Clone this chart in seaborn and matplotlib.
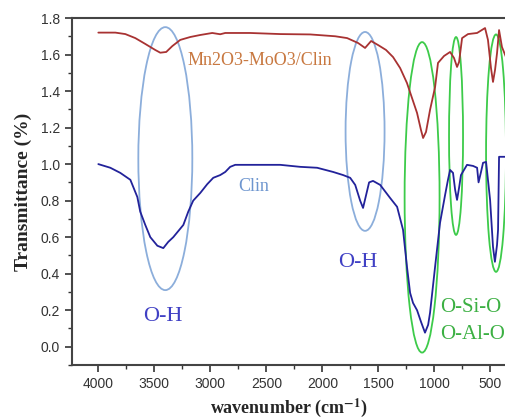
# FTIR spectra: Clin vs Mn2O3-MoO3/Clin
import numpy as np
import pandas as pd
import matplotlib
matplotlib.use("Agg")
import matplotlib.pyplot as plt
from matplotlib.patches import Ellipse
from matplotlib.ticker import MultipleLocator, FormatStrFormatter
import seaborn as sns

# Data (wavenumber cm-1, transmittance)
wn_mn = [4000, 3848, 3759, 3670, 3581, 3492, 3447, 3394, 3340, 3269, 3179, 3090, 2983,
         2912, 2867, 2645, 2376, 2109, 1886, 1779, 1681, 1619, 1565, 1503, 1432, 1369,
         1306, 1245, 1200, 1155, 1120, 1101, 1075, 1039, 994, 968, 914, 860, 825, 798,
         780, 753, 700, 619, 548, 522, 495, 477, 459, 441, 423, 397, 361]
tr_mn = [1.72, 1.72, 1.712, 1.69, 1.658, 1.625, 1.61, 1.614, 1.646, 1.68, 1.696, 1.707, 1.718,
         1.711, 1.718, 1.718, 1.712, 1.71, 1.70, 1.69, 1.663, 1.636, 1.674, 1.652, 1.625, 1.586,
         1.526, 1.444, 1.362, 1.28, 1.187, 1.143, 1.176, 1.297, 1.422, 1.554, 1.592, 1.614, 1.581, 1.532,
         1.559, 1.69, 1.712, 1.718, 1.745, 1.68, 1.526, 1.45, 1.515, 1.608, 1.734, 1.641, 1.586]

wn_clin = [4000, 3893, 3804, 3714, 3652, 3626, 3581, 3536, 3473, 3420, 3376, 3331, 3241,
           3197, 3153, 3090, 3028, 2974, 2912, 2867, 2823, 2778, 2645, 2376, 2198, 2047,
           1904, 1815, 1752, 1707, 1663, 1637, 1610, 1583, 1548, 1484, 1396, 1333, 1280,
           1245, 1217, 1191, 1155, 1120, 1084, 1056, 1039, 994, 950, 905, 879, 860, 834,
           815, 798, 780, 763, 709, 655, 619, 606, 584, 566, 539, 522, 503, 477, 460, 441,
           432, 423, 361]
tr_clin = [1.0, 0.98, 0.952, 0.914, 0.82, 0.74, 0.667, 0.60, 0.553, 0.54, 0.574, 0.60, 0.667,
           0.74, 0.80, 0.842, 0.89, 0.925, 0.94, 0.957, 0.985, 0.996, 0.996, 0.996, 0.985, 0.98,
           0.957, 0.94, 0.925, 0.886, 0.80, 0.76, 0.83, 0.90, 0.908, 0.886, 0.815, 0.766, 0.64,
           0.438, 0.295, 0.24, 0.20, 0.137, 0.077, 0.12, 0.186, 0.438, 0.678, 0.83, 0.914, 0.968, 0.952,
           0.859, 0.804, 0.87, 0.94, 0.996, 0.99, 0.98, 0.90, 0.957, 1.007, 1.012, 0.914, 0.804, 0.547, 0.465, 0.558,
           0.64, 1.04, 1.04]

# band annotations: (x centre, y centre, width, height)
oh_rings = [(3402, 1.03, 482, 1.44), (1619, 1.179, 348, 1.089)]
lattice_rings = [(1110, 0.818, 312, 1.70), (807, 1.154, 125, 1.083), (450, 1.06, 178, 1.30)]

df_mn = pd.DataFrame({"wn": wn_mn, "tr": tr_mn})
df_clin = pd.DataFrame({"wn": wn_clin, "tr": tr_clin})

sns.set_theme(style="ticks")
plt.rcParams["font.family"] = ["Liberation Sans", "DejaVu Sans"]
plt.rcParams["mathtext.fontset"] = "stix"

fig = plt.figure(figsize=(5.06, 4.2), dpi=100)
ax = fig.add_axes([72 / 506, 55 / 420, 434 / 506, 347 / 420])

sns.lineplot(data=df_mn, x="wn", y="tr", sort=False, color="#A83232", linewidth=1.3, ax=ax)
sns.lineplot(data=df_clin, x="wn", y="tr", sort=False, color="#22229A", linewidth=1.3, ax=ax)

for cx, cy, w, h in oh_rings:
    ax.add_patch(Ellipse((cx, cy), w, h, fill=False, edgecolor="#8CAEDB", linewidth=1.3))
for cx, cy, w, h in lattice_rings:
    ax.add_patch(Ellipse((cx, cy), w, h, fill=False, edgecolor="#3DCB4A", linewidth=1.3))

serif = ["Liberation Serif", "DejaVu Serif"]
ax.text(3206, 1.565, "Mn2O3-MoO3/Clin", color="#C87840", fontsize=13, family=serif, ha="left", va="center")
ax.text(2751, 0.875, "Clin", color="#6E96CF", fontsize=13, family=serif, ha="left", va="center")
ax.text(3420, 0.164, "O-H", color="#4040C4", fontsize=16, family=serif, ha="center", va="center")
ax.text(1681, 0.46, "O-H", color="#4040C4", fontsize=16, family=serif, ha="center", va="center")
ax.text(950, 0.213, "O-Si-O", color="#3CB043", fontsize=15, family=serif, ha="left", va="center")
ax.text(950, 0.066, "O-Al-O", color="#3CB043", fontsize=15, family=serif, ha="left", va="center")

ax.set_xlim(4235, 361)
ax.set_ylim(-0.1, 1.8)
ax.xaxis.set_major_locator(MultipleLocator(500))
ax.xaxis.set_minor_locator(MultipleLocator(250))
ax.yaxis.set_major_locator(MultipleLocator(0.2))
ax.yaxis.set_minor_locator(MultipleLocator(0.1))
ax.yaxis.set_major_formatter(FormatStrFormatter("%.1f"))
ax.tick_params(which="major", direction="out", length=5, width=1.2, colors="#333333", labelsize=10)
ax.tick_params(which="minor", direction="out", length=3, width=1.0, colors="#333333")
ax.tick_params(top=False, right=False, which="both")

for s in ["left", "bottom", "top"]:
    ax.spines[s].set_color("#444444")
    ax.spines[s].set_linewidth(1.5)
ax.spines["right"].set_visible(False)

ax.set_xlabel(r"wavenumber (cm$^{\mathbf{-1}}$)", fontsize=13, fontweight="bold", family=serif, labelpad=4)
ax.set_ylabel("Transmittance (%)", fontsize=14, fontweight="bold", family=serif, labelpad=6)

fig.savefig("out.png", dpi=100)
